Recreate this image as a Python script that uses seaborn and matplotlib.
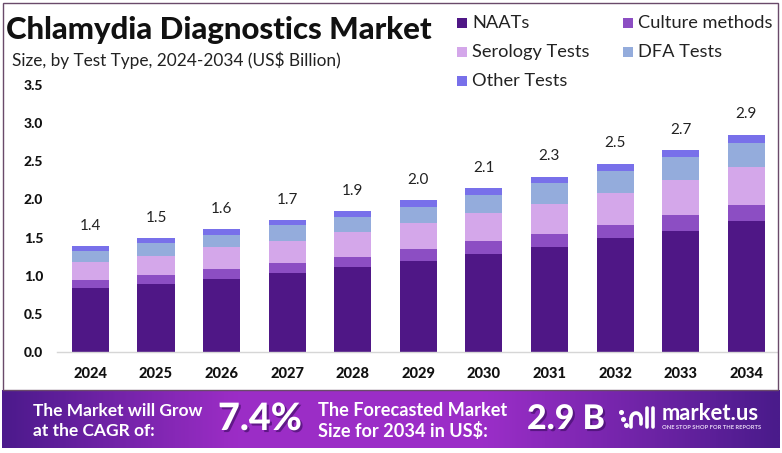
import numpy as np
import pandas as pd
import matplotlib
matplotlib.use("Agg")
import matplotlib.pyplot as plt
import seaborn as sns
from matplotlib.patches import Rectangle
from matplotlib.colors import LinearSegmentedColormap
from matplotlib.lines import Line2D
import matplotlib.patheffects as pe

# ---------------- data ----------------
years = ["2024", "2025", "2026", "2027", "2028", "2029", "2030", "2031", "2032", "2033", "2034"]
naats = [0.84, 0.89, 0.96, 1.04, 1.11, 1.19, 1.29, 1.38, 1.49, 1.59, 1.72]
culture = [0.105, 0.12, 0.13, 0.13, 0.13, 0.16, 0.16, 0.17, 0.18, 0.21, 0.21]
serology = [0.24, 0.25, 0.28, 0.29, 0.33, 0.34, 0.37, 0.39, 0.42, 0.45, 0.49]
dfa = [0.14, 0.17, 0.17, 0.20, 0.20, 0.21, 0.24, 0.27, 0.28, 0.30, 0.32]
other = [0.066, 0.066, 0.066, 0.066, 0.08, 0.09, 0.09, 0.09, 0.10, 0.10, 0.11]
total_labels = ["1.4", "1.5", "1.6", "1.7", "1.9", "2.0", "2.1", "2.3", "2.5", "2.7", "2.9"]
series_names = ["NAATs", "Culture methods", "Serology Tests", "DFA Tests", "Other Tests"]
colors = ["#4f1786", "#8c4ec3", "#d4a7ea", "#94acdc", "#7870ea"]
yticks = [0.0, 0.5, 1.0, 1.5, 2.0, 2.5, 3.0, 3.5]

W, H = 782, 453
sns.set_theme(style="white")
plt.rcParams["font.family"] = ["Lato", "DejaVu Sans"]

fig = plt.figure(figsize=(W / 100, H / 100), dpi=100)
fig.patch.set_facecolor("white")

def fx(px):
    return px / W

def fy(py):
    return 1 - py / H

ax = fig.add_axes([fx(57), fy(352), fx(777) - fx(57), fy(85) - fy(352)])

df = pd.DataFrame({"year": years, "NAATs": naats, "Culture methods": culture,
                   "Serology Tests": serology, "DFA Tests": dfa, "Other Tests": other})
cum = df[series_names].cumsum(axis=1)

# draw stacked bars from tallest cumulative to shortest
for name, col in reversed(list(zip(series_names, colors))):
    sns.barplot(x=df["year"], y=cum[name], color=col, saturation=1, width=0.565,
                errorbar=None, ax=ax, linewidth=0)

ax.set_xlim(-0.51, 10.47)
ax.set_ylim(0, 3.5)
ax.set_yticks(yticks)
ax.set_yticklabels([f"{v:.1f}" for v in yticks])
ax.set_xlabel("")
ax.set_ylabel("")
for s in ["top", "right", "left"]:
    ax.spines[s].set_visible(False)
ax.spines["bottom"].set_color("#d6d6d6")
ax.spines["bottom"].set_linewidth(1.0)
ax.tick_params(axis="y", length=0, pad=10, labelsize=10, labelcolor="#111111")
ax.tick_params(axis="x", length=0, pad=11, labelsize=10.5, labelcolor="#111111")
for t in ax.get_yticklabels() + ax.get_xticklabels():
    t.set_fontweight("black")
ax.grid(False)
ax.set_facecolor("white")

totals = cum["Other Tests"].values
for i, (tot, lab) in enumerate(zip(totals, total_labels)):
    ax.annotate(lab, (i, tot), xytext=(0, 14.5), textcoords="offset points",
                ha="center", va="center", fontsize=11, color="#222222")

# ---------------- titles ----------------
renderer = fig.canvas.get_renderer()

def fit(t, target_w):
    w = t.get_window_extent(renderer).width
    t.set_fontsize(t.get_fontsize() * target_w / w)

title = fig.text(fx(6), fy(30), "Chlamydia Diagnostics Market", ha="left", va="center",
                 fontsize=18, fontweight="black", color="#111111")
fit(title, 427)
sub = fig.text(fx(12), fy(60), "Size, by Test Type, 2024-2034 (US$ Billion)", ha="left",
               va="center", fontsize=11, color="#222222")
fit(sub, 329)

# ---------------- legend ----------------
leg_pos = [(457, 23), (623, 23), (457, 52), (623, 52), (457, 81)]
leg_texts = []
for (lx, ly), name, col in zip(leg_pos, series_names, colors):
    fig.patches.append(Rectangle((fx(lx), fy(ly + 5)), fx(10), 10 / H, transform=fig.transFigure,
                                 facecolor=col, edgecolor="none"))
    leg_texts.append(fig.text(fx(lx + 15), fy(ly), name, ha="left", va="center",
                              fontsize=11, color="#222222"))
fit(leg_texts[1], 134)
for t in leg_texts:
    t.set_fontsize(leg_texts[1].get_fontsize())

# ---------------- border ----------------
fig.patches.append(Rectangle((fx(2.5), fy(390)), fx(778) - fx(2.5), fy(2.5) - fy(390),
                             transform=fig.transFigure, facecolor="none",
                             edgecolor="#6a4a6a", linewidth=1.0, zorder=0))

# ---------------- banner ----------------
bax = fig.add_axes([fx(2), fy(448), fx(780) - fx(2), fy(390) - fy(448)])
cmap = LinearSegmentedColormap.from_list("ban", [(0, "#4c1a8c"), (0.3, "#9c2dc6"),
                                                 (0.62, "#9b2ec8"), (1.0, "#4a1b8b")])
grad = np.linspace(0, 1, 400).reshape(1, -1)
bax.imshow(grad, aspect="auto", cmap=cmap, extent=[0, 1, 0, 1])
bax.set_axis_off()

shadow = [pe.withSimplePatchShadow(offset=(1.5, -1.5), shadow_rgbFace="#3a0a60", alpha=0.6)]
b1 = fig.text(fx(33), fy(411), "The Market will Grow", ha="left", va="center",
              fontsize=12, fontweight="bold", color="white")
fit(b1, 169)
b2 = fig.text(fx(33), fy(431), "at the CAGR of:", ha="left", va="center",
              fontsize=b1.get_fontsize(), fontweight="bold", color="white")
big1 = fig.text(fx(218), fy(419), "7.4%", ha="left", va="center", fontsize=24,
                fontweight="black", color="white", path_effects=shadow)
fit(big1, 84)
b3 = fig.text(fx(318), fy(411), "The Forecasted Market", ha="left", va="center",
              fontsize=12, fontweight="bold", color="white")
fit(b3, 188)
b4 = fig.text(fx(318), fy(431), "Size for 2034 in US$:", ha="left", va="center",
              fontsize=b3.get_fontsize(), fontweight="bold", color="white")
big2 = fig.text(fx(527), fy(419), "2.9 B", ha="left", va="center", fontsize=24,
                fontweight="black", color="white", path_effects=shadow)
fit(big2, 78)

# logo icon (simple line approximation)
def L(xs, ys, lw=2.6):
    fig.lines.append(Line2D([fx(x) for x in xs], [fy(y) for y in ys], transform=fig.transFigure,
                            color="white", linewidth=lw, solid_capstyle="round"))
fig.lines.append(Line2D([fx(621), fx(623), fx(626)], [fy(412), fy(419), fy(425)],
                        transform=fig.transFigure, linestyle="none", marker="o",
                        markersize=2.6, color="white"))
th = np.linspace(np.pi, 0, 20)
L(list(636 + 5 * np.cos(th)), list(419 - 6 * np.sin(th)), lw=2.6)
L([631, 631], [419, 427])
L([641, 641], [419, 424])
L([647, 647], [408, 427])
L([653, 653], [408, 427])

logo = fig.text(fx(662), fy(414), "market.us", ha="left", va="center", fontsize=15,
                fontweight="bold", color="white")
fit(logo, 97)
tag = fig.text(fx(662), fy(427.5), "ONE STOP SHOP FOR THE REPORTS", ha="left", va="center",
               fontsize=4, fontweight="bold", color="#e8d8f5")
fit(tag, 97)

fig.savefig("out.png", dpi=100, facecolor="white")
